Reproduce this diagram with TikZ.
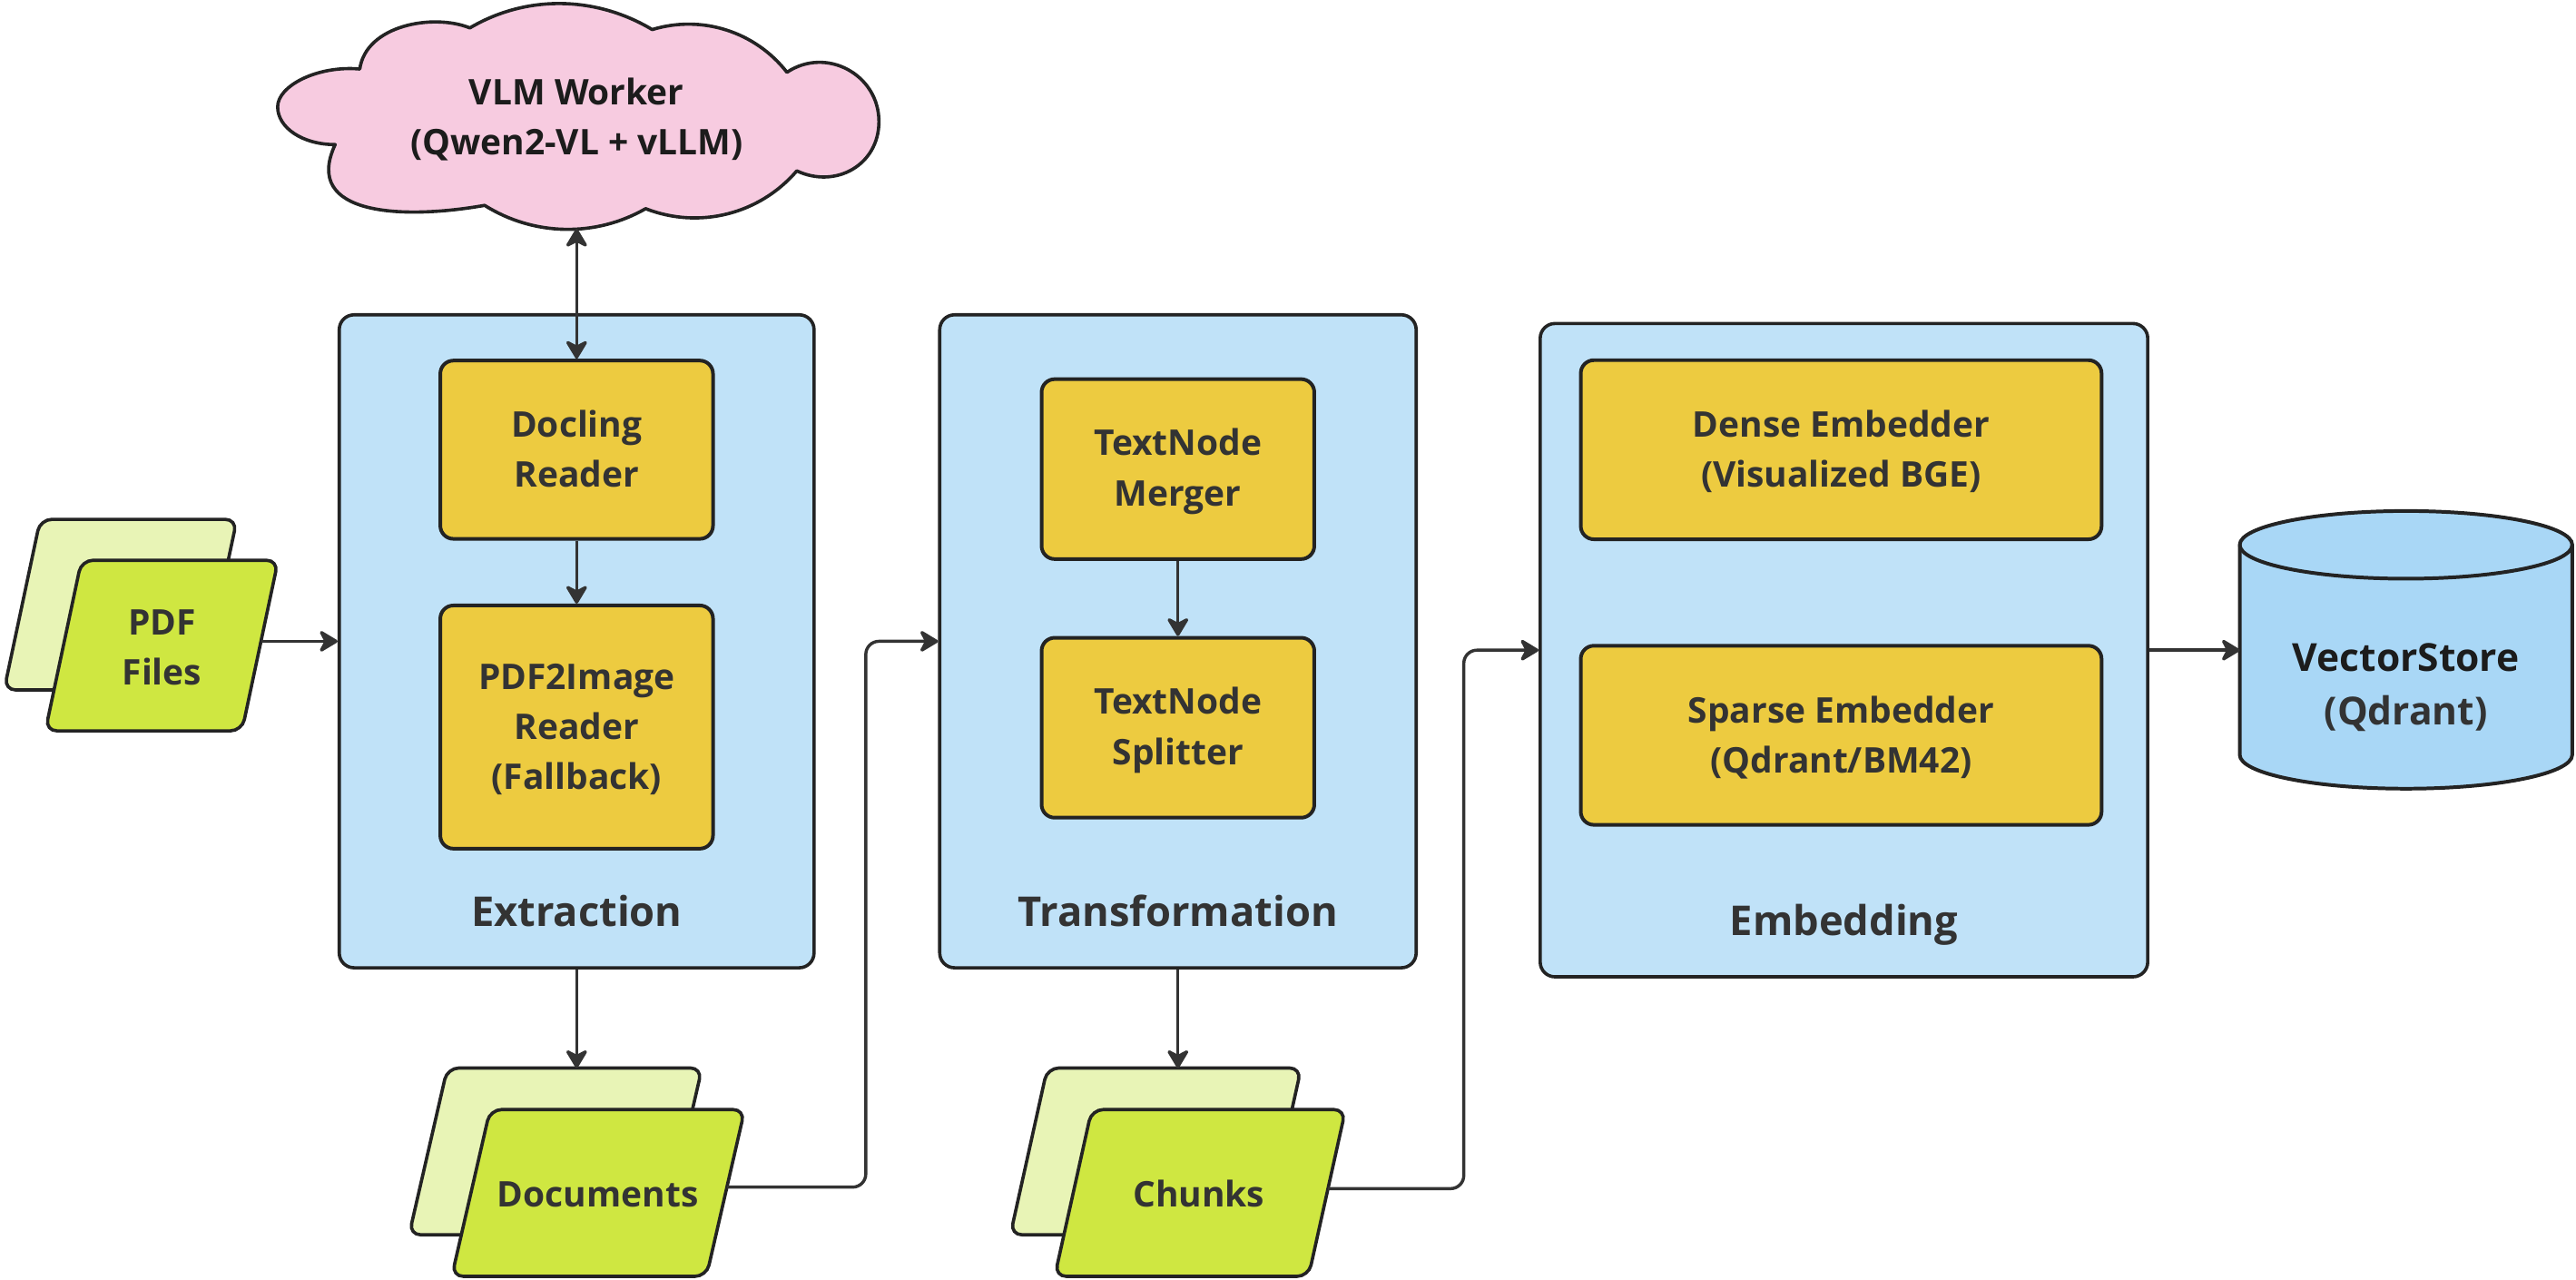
\documentclass[tikz,border=0pt]{standalone}
\usepackage{fontspec}
\setmainfont{Open Sans}
\usetikzlibrary{arrows.meta}
\definecolor{cCont}{HTML}{C0E2F8}
\definecolor{cYel}{HTML}{EDCB40}
\definecolor{cLime}{HTML}{CFE741}
\definecolor{cLimeL}{HTML}{E8F4B6}
\definecolor{cPink}{HTML}{F7CBE0}
\definecolor{cCyl}{HTML}{A9D7F6}
\definecolor{cEdge}{HTML}{232323}
\definecolor{cTxt}{HTML}{333333}
\definecolor{cDark}{HTML}{1C1C1C}
\newcommand\st{\rule[-0.19em]{0pt}{1.09em}}
\newcommand\boxfont{\fontsize{21.5}{30.5}\selectfont\bfseries}
\newcommand\grpfont{\fontsize{25}{30}\selectfont\bfseries}
\newcommand\cylfont{\fontsize{23.5}{32.6}\selectfont\bfseries}
\newcommand\drawpara[6]{%
  \draw[parast, fill=#1] (#2,#3) -- ++(#4,0) -- ++(#6,#5) -- ++(-#4,0) -- cycle;}
\tikzset{
  container/.style={draw=cEdge, line width=2pt, fill=cCont, rounded corners=9pt, inner sep=0pt},
  yelbox/.style={draw=cEdge, line width=2.2pt, fill=cYel, rounded corners=8pt, align=center,
    text=cTxt, font=\boxfont, inner sep=0pt},
  grplabel/.style={text=cTxt, font=\grpfont, inner sep=0pt},
  paratext/.style={text=cTxt, font=\boxfont, align=center, inner sep=0pt},
  parast/.style={draw=cEdge, line width=2pt, rounded corners=7pt},
  cloudst/.style={draw=cEdge, fill=cPink, line width=2pt, line join=round},
  conn/.style={draw=cTxt, line width=1.9pt,
    >={Stealth[length=13pt,width=15.5pt,inset=4pt,round]}},
}
\begin{document}
\begin{tikzpicture}[x=1pt,y=1pt]
\useasboundingbox (0,0) rectangle (1568,-778.5);
\fill[white] (0,0) rectangle (1568,-778.5);

% ---------- cloud ----------
\draw[cloudst] (204,-88)
  to[out=180,in=270,out distance=19.9pt,in distance=12.7pt] (169,-65)
  to[out=90,in=175,out distance=12.7pt,in distance=26pt] (219,-42)
  to[out=82,in=158,out distance=27pt,in distance=24pt] (286,-17)
  to[out=30.6,in=149.1,distance=40pt] (397,-18)
  to[out=16.9,in=127.9,distance=31.5pt] (479,-44)
  to[out=33.7,in=90,distance=28.7pt] (535,-74)
  to[out=-90,in=-25,distance=26.3pt] (485,-104)
  to[out=-130.6,in=-21.3,distance=34.9pt] (393,-127)
  to[out=-150.2,in=-32.1,distance=35.2pt] (295,-125)
  to[out=-170,in=-115,out distance=50pt,in distance=48pt] (204,-88)
  -- cycle;
\node[paratext, text=cDark] (vlm) at (351,-71.5) {\st VLM Worker\\\st (Qwen2-VL + vLLM)};
\coordinate (cloudB) at (351,-139.3);

% ---------- containers ----------
\node[container, minimum width=289pt, minimum height=397.4pt] (ext) at (351,-390.3) {};
\node[container, minimum width=290pt, minimum height=397.4pt] (trf) at (717,-390.3) {};
\node[container, minimum width=369.8pt, minimum height=397.6pt] (emb) at (1122.4,-395.7) {};
\node[grplabel] (extL) at (351,-555) {\st Extraction};
\node[grplabel] (trfL) at (717,-555) {\st Transformation};
\node[grplabel] (embL) at (1122.4,-561.3) {\st Embedding};

% ---------- inner boxes ----------
\node[yelbox, minimum width=166pt, minimum height=108.5pt] (doc) at (351,-273.7) {\st Docling\\\st Reader};
\node[yelbox, minimum width=166pt, minimum height=148pt] (p2i) at (351,-442.5) {\st PDF2Image\\\st Reader\\\st (Fallback)};
\node[yelbox, minimum width=166pt, minimum height=109.5pt] (mrg) at (717,-285.5) {\st TextNode\\\st Merger};
\node[yelbox, minimum width=166pt, minimum height=109.5pt] (spl) at (717,-442.9) {\st TextNode\\\st Splitter};
\node[yelbox, minimum width=317pt, minimum height=109pt] (dense) at (1120.7,-273.7) {\st Dense Embedder\\\st (Visualized BGE)};
\node[yelbox, minimum width=317pt, minimum height=109pt] (sparse) at (1120.7,-447.5) {\st Sparse Embedder\\\st (Qdrant/BM42)};

% ---------- parallelograms ----------
\drawpara{cLimeL}{2.5}{-419.9}{119.7}{103.8}{22}
\drawpara{cLime}{27.6}{-444.8}{119.7}{103.8}{22}
\node[paratext] (pdf) at (98.6,-394) {\st PDF\\\st Files};
\coordinate (pdfR) at (158.9,-390.3);

\drawpara{cLimeL}{249}{-751.5}{155}{101.5}{23.3}
\drawpara{cLime}{275}{-776.8}{155}{101.5}{23.3}
\node[paratext] (docs) at (363.9,-727) {\st Documents};
\coordinate (docsT) at (351,-650);
\coordinate (docsR) at (442.5,-722.5);

\drawpara{cLimeL}{615}{-751.5}{154.5}{101.5}{22.5}
\drawpara{cLime}{642}{-776.8}{154.5}{101.5}{22.5}
\node[paratext] (chk) at (729.7,-727) {\st Chunks};
\coordinate (chkT) at (717,-650);
\coordinate (chkR) at (808.3,-723.4);

% ---------- cylinder ----------
\draw[draw=cEdge, line width=2.2pt, fill=cCyl]
  (1363.3,-331.6) -- (1363.3,-459.4)
  arc[start angle=180, end angle=360, x radius=101.2pt, y radius=20.6pt]
  -- (1565.7,-331.6)
  arc[start angle=0, end angle=180, x radius=101.2pt, y radius=20.6pt] -- cycle;
\draw[draw=cEdge, line width=2.2pt]
  (1363.3,-331.6) arc[start angle=180, end angle=360, x radius=101.2pt, y radius=20.6pt];
\node[paratext, font=\cylfont] (vs) at (1464.5,-416.3) {\st\textcolor{cDark}{VectorStore}\\\st (Qdrant)};
\coordinate (vsW) at (1363.3,-395.7);

% ---------- connectors ----------
\draw[conn, <->] (cloudB) -- (doc.north);
\draw[conn, ->] (doc.south) -- (p2i.north);
\draw[conn, ->] (mrg.south) -- (spl.north);
\draw[conn, ->] (pdfR) -- (pdfR -| ext.west);
\draw[conn, ->] (ext.south) -- (docsT);
\draw[conn, ->, rounded corners=8pt] (docsR) -| ([xshift=-44pt]trf.west) -- (trf.west);
\draw[conn, ->] (trf.south) -- (chkT);
\draw[conn, ->, rounded corners=8pt] (chkR) -| ([xshift=-45.5pt]emb.west) -- (emb.west);
\draw[conn, ->] (emb.east) -- (vsW);
\end{tikzpicture}
\end{document}
